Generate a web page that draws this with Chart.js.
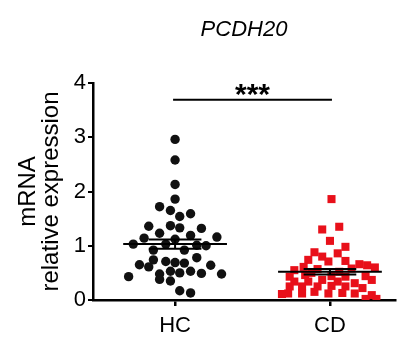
<!DOCTYPE html>
<html><head><meta charset="utf-8">
<script src="https://cdn.jsdelivr.net/npm/chart.js@4.4.1/dist/chart.umd.min.js"></script>
<style>html,body{margin:0;padding:0;background:#fff}#wrap{width:412px;height:364px}</style>
</head><body><div id="wrap"><canvas id="c" width="412" height="364"></canvas></div>
<script>
const categories = ['HC', 'CD'];
const titleText = 'PCDH20';
const yTitle = ['mRNA', 'relative expression'];
const yTicks = [0, 1, 2, 3, 4];
const sigText = '***';
const sigLevel = 3.69;

const hcX = [1.00,1.00,1.00,1.00,0.90,0.97,1.03,1.10,0.83,0.97,1.03,1.17,0.90,1.10,0.80,1.27,1.00,0.73,0.94,1.14,1.20,0.86,1.06,1.14,0.86,0.94,1.00,1.06,0.77,0.83,1.23,0.97,1.03,1.10,1.17,0.90,1.30,0.70,0.90,0.97,1.03,1.10];
const hcY = [2.96,2.58,2.13,1.86,1.72,1.65,1.54,1.59,1.36,1.37,1.33,1.32,1.23,1.19,1.14,1.16,1.12,1.03,1.03,1.01,1.00,0.92,0.92,0.78,0.74,0.71,0.69,0.68,0.65,0.61,0.64,0.53,0.50,0.53,0.49,0.48,0.48,0.43,0.38,0.35,0.17,0.13];

const cdX = [2.01,2.06,1.95,2.00,2.10,1.90,2.05,1.95,1.86,2.10,1.99,2.19,2.24,1.83,2.29,1.77,1.92,2.14,1.74,1.84,2.01,2.10,2.23,1.77,1.86,1.95,2.05,2.16,2.27,1.74,1.82,1.92,2.01,2.10,2.21,1.73,1.82,1.90,1.99,2.08,2.16,2.27,1.69,2.23,2.30,1.88,2.06];
const cdY = [1.86,1.35,1.30,1.09,0.98,0.88,0.86,0.80,0.74,0.72,0.71,0.66,0.64,0.61,0.60,0.55,0.57,0.58,0.43,0.46,0.44,0.43,0.44,0.34,0.34,0.37,0.34,0.31,0.37,0.25,0.25,0.25,0.26,0.25,0.22,0.12,0.12,0.15,0.12,0.13,0.12,0.09,0.11,0.02,0.02,0.50,0.52];

const means = [1.03, 0.52];
const sems = [0.085, 0.05];

const meanHalf = 0.335, semHalf = 0.17;
function pts(xs, ys){ return xs.map((x,i)=>({x:x, y:ys[i]})); }
function lineDs(data){ return {type:'line', data:data, borderColor:'#000', borderWidth:2, pointRadius:0, showLine:true, fill:false, order:0, tension:0}; }

const datasets = [];
categories.forEach((c,i)=>{
  const cx = i+1, m = means[i], s = sems[i];
  datasets.push(lineDs([{x:cx-meanHalf,y:m},{x:cx+meanHalf,y:m}]));
  datasets.push(lineDs([{x:cx-semHalf,y:m+s},{x:cx+semHalf,y:m+s}]));
  datasets.push(lineDs([{x:cx-semHalf,y:m-s},{x:cx+semHalf,y:m-s}]));
  datasets.push(lineDs([{x:cx,y:m-s},{x:cx,y:m+s}]));
});
datasets.push({label:'HC', data:pts(hcX,hcY), pointStyle:'circle', pointRadius:4.7, backgroundColor:'#111', borderWidth:0, order:1});
datasets.push({label:'CD', data:pts(cdX,cdY), pointStyle:'rect', pointRadius:5.7, backgroundColor:'#e8101a', borderWidth:0, order:1});

const annot = {
  id:'annot',
  afterDraw(chart){
    const ctx = chart.ctx, xs = chart.scales.x, ys = chart.scales.y, ca = chart.chartArea;
    ctx.save();
    ctx.fillStyle = '#000';
    ctx.textAlign = 'center';
    ctx.textBaseline = 'middle';
    ctx.font = 'italic 22px "Liberation Sans", Arial, sans-serif';
    ctx.fillText(titleText, (ca.left+ca.right)/2, 30);
    const yb = ys.getPixelForValue(sigLevel);
    const x1 = xs.getPixelForValue(1), x2 = xs.getPixelForValue(2);
    ctx.strokeStyle = '#000'; ctx.lineWidth = 2;
    ctx.beginPath(); ctx.moveTo(x1-2, yb); ctx.lineTo(x2+2, yb); ctx.stroke();
    ctx.font = 'bold 30px "Liberation Sans", Arial, sans-serif';
    ctx.textBaseline = 'alphabetic';
    ctx.fillText(sigText, (x1+x2)/2, yb + 4);
    ctx.restore();
  }
};

new Chart(document.getElementById('c'), {
  type:'scatter',
  data:{datasets:datasets},
  options:{
    responsive:false, animation:false,
    layout:{padding:{top:83, right:17, left:0, bottom:0}},
    plugins:{legend:{display:false}, tooltip:{enabled:false}, title:{display:false}},
    scales:{
      x:{type:'linear', min:0.47, max:2.42,
        afterBuildTicks(s){ s.ticks = [{value:1},{value:2}]; },
        afterFit(s){ s.height = 64; },
        border:{display:true, color:'#000', width:2.5},
        grid:{display:true, drawOnChartArea:false, drawTicks:true, tickLength:6, color:'#000', lineWidth:2.5},
        ticks:{color:'#000', padding:7, font:{size:22, family:'"Liberation Sans", Arial, sans-serif'},
          callback:(v)=>categories[Math.round(v)-1] || ''}
      },
      y:{type:'linear', min:0, max:4,
        afterBuildTicks(s){ s.ticks = yTicks.map(v=>({value:v})); },
        afterFit(s){ s.width = 93; },
        border:{display:true, color:'#000', width:2.5},
        grid:{display:true, drawOnChartArea:false, drawTicks:true, tickLength:5, color:'#000', lineWidth:2},
        ticks:{color:'#000', padding:2, font:{size:22, family:'"Liberation Sans", Arial, sans-serif'}},
        title:{display:true, text:yTitle, color:'#000', font:{size:24, family:'"Liberation Sans", Arial, sans-serif', lineHeight:0.95}, padding:{top:17, bottom:0}}
      }
    }
  },
  plugins:[annot]
});
</script></body></html>
